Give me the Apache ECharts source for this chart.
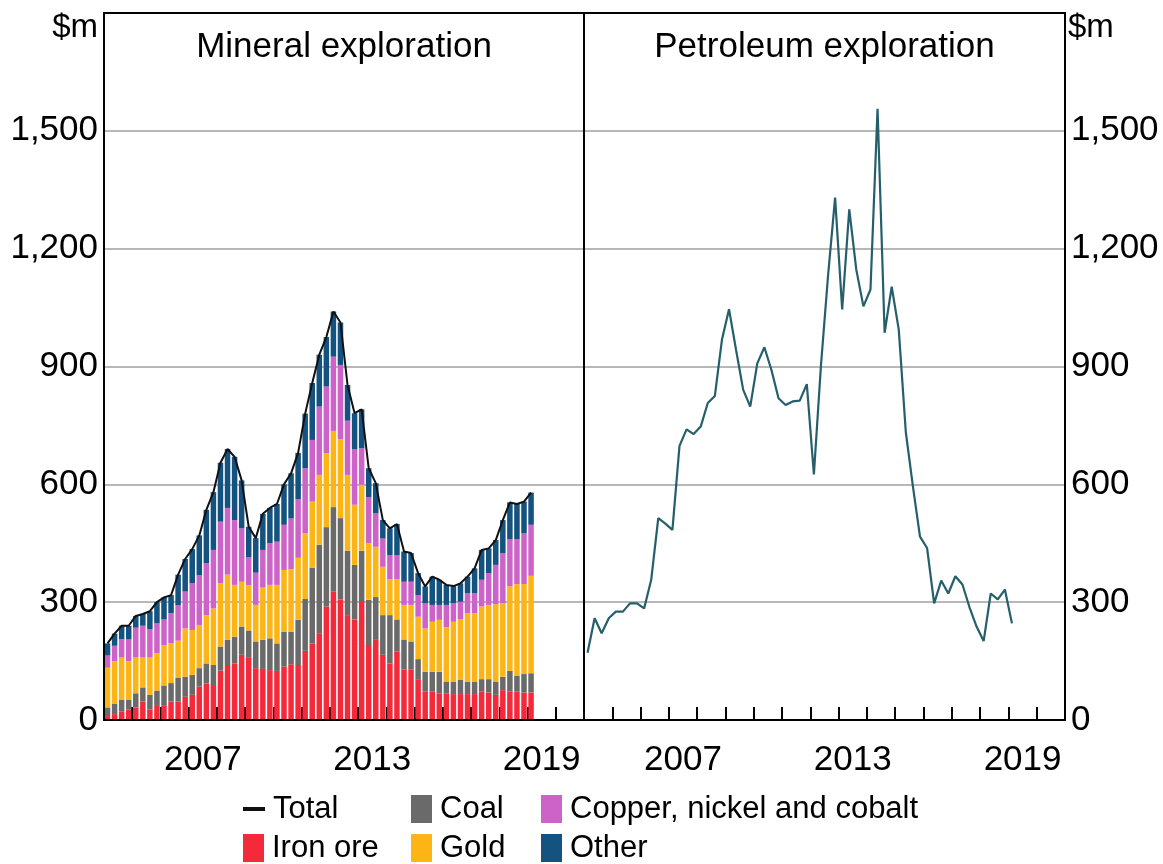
<!DOCTYPE html>
<html><head><meta charset="utf-8">
<script src="https://cdn.jsdelivr.net/npm/echarts@6/dist/echarts.min.js"></script>
<style>html,body{margin:0;padding:0;background:#fff}#c{width:1163px;height:864px}</style>
</head><body><div id="c"></div>
<script>
// ---- data (quarterly, 2004 Q1 .. 2019 Q1), $m ----
const years = ['2004','2005','2006','2007','2008','2009','2010','2011','2012','2013','2014','2015','2016','2017','2018','2019','2020'];
const shownYears = ['2007','2013','2019'];
const yTicks = [0,300,600,900,1200,1500,1800];

const ironOre = [10,15,21,27,32,47,27,38,36,47, 47,59,64,85,93,89,126,140,144,166, 160,132,130,127,125,136,142,140,176,195, 221,289,327,307,267,256,303,191,204,166, 144,174,129,129,104,72,72,68,68,66, 66,66,66,72,70,64,76,72,72,70, 70];
const coal = [22,27,30,24,36,36,37,37,52,47, 60,51,51,47,51,51,61,64,68,72, 68,68,74,81,70,89,83,115,132,193, 225,202,215,207,164,139,128,115,109,101, 123,82,76,71,51,51,51,55,30,32, 36,32,32,32,34,34,34,53,40,47, 49];
const gold = [101,108,108,99,91,76,95,95,103,102, 95,123,114,110,123,144,161,166,132,114, 115,93,133,136,149,157,159,158,167,168, 178,188,194,201,193,153,168,144,128,123, 91,102,88,93,108,110,127,132,138,152, 154,174,174,185,189,197,187,215,234,229, 248];
const copper = [31,39,47,55,76,81,72,76,65,76, 90,94,119,127,132,149,157,170,165,136, 72,82,96,106,110,115,129,149,166,157, 174,170,189,189,138,141,93,117,85,72, 62,62,59,59,55,64,43,38,57,47, 45,51,51,68,81,100,128,120,114,129, 130];
const other = [31,31,34,35,30,30,46,54,56,46, 78,83,87,101,136,147,150,150,161,122, 77,88,92,90,96,103,115,118,139,145, 132,126,115,108,91,92,99,74,77,47, 68,79,77,73,56,43,72,64,51,44, 47,42,63,76,63,63,84,94,90,81, 82];
const total = [195,220,240,240,265,270,277,300,312,318, 370,410,435,470,535,580,655,690,670,610, 492,463,525,540,550,600,628,680,780,858, 930,975,1040,1012,853,781,791,641,603,509, 488,499,429,425,374,340,365,357,344,341, 348,365,386,433,437,458,509,554,550,556, 579];
const petroleum = [171,259,221,259,276,276,297,297,284,357, 514,500,484,698,740,728,747,807,825,968, 1046,942,841,798,908,949,891,819,802,811, 813,855,625,903,1131,1330,1045,1300,1146,1053, 1096,1556,986,1103,994,732,595,467,438,297, 355,322,366,345,287,238,201,322,307,332, 246];

const quarters = [];
years.forEach(y => ['Q1','Q2','Q3','Q4'].forEach(q => quarters.push(y + q)));

// ---- styles ----
const FONT = 'Liberation Sans, Arial, sans-serif';
const C = {iron:'#F42A3B', coal:'#6A6A6A', gold:'#FDB515', copper:'#CD63C9', other:'#14527F', total:'#111111', petro:'#255F6C'};
const G0 = {left:104, top:13, width:480, height:707};
const G1 = {left:584, top:13, width:481, height:707};

const chart = echarts.init(document.getElementById('c'), null, {renderer:'canvas'});

function yAxisDef(gi, pos){
  return {
    type:'value', gridIndex:gi, position:pos, min:0, max:1800, interval:300,
    axisLine:{show:false}, axisTick:{show:false},
    splitLine:{show:true, lineStyle:{color:'#B8B8B8', width:2}},
    axisLabel:{show:true, margin:6, color:'#000', fontSize:35, fontFamily:FONT,
      formatter: v => v === 1800 ? '' : v.toLocaleString('en-US')}
  };
}
function xTickAxis(gi){
  return {
    type:'category', gridIndex:gi, data:quarters, position:'bottom', boundaryGap:true,
    axisLine:{show:true, lineStyle:{color:'#000', width:2}},
    axisTick:{show:true, inside:true, length:13, lineStyle:{color:'#000', width:2},
      interval:(i)=> i % 4 === 0},
    axisLabel:{show:false}, splitLine:{show:false}
  };
}
function xLabelAxis(gi){
  return {
    type:'category', gridIndex:gi, data:years, position:'bottom', boundaryGap:true,
    axisLine:{show:false}, axisTick:{show:false}, splitLine:{show:false},
    axisLabel:{show:true, margin:23, color:'#000', fontSize:35, fontFamily:FONT,
      interval:(i, v)=> shownYears.indexOf(v) >= 0}
  };
}

function barSeries(name, data, color){
  return {name, type:'bar', stack:'minerals', xAxisIndex:0, yAxisIndex:0, data,
    barCategoryGap:'22%', itemStyle:{color}, emphasis:{disabled:true}};
}

function legendItem(name, left, top, icon, w, h){
  return {data:[{name, icon}], left, top, orient:'horizontal', padding:0,
    itemWidth:w, itemHeight:h, selectedMode:false, itemGap:0,
    textStyle:{fontSize:31, fontFamily:FONT, color:'#000', padding:[0,0,0,3], lineHeight:34}};
}

const option = {
  backgroundColor:'#fff',
  animation:false,
  grid:[Object.assign({containLabel:false}, G0), Object.assign({containLabel:false}, G1)],
  xAxis:[xTickAxis(0), xLabelAxis(0), xTickAxis(1), xLabelAxis(1)],
  yAxis:[yAxisDef(0,'left'), yAxisDef(1,'right')],
  legend:[
    legendItem('Total', 243, 792, 'rect', 22, 4),
    legendItem('Coal', 411, 792, 'rect', 21, 28),
    legendItem('Copper, nickel and cobalt', 541, 792, 'rect', 21, 28),
    legendItem('Iron ore', 243, 831, 'rect', 21, 28),
    legendItem('Gold', 411, 831, 'rect', 21, 28),
    legendItem('Other', 541, 831, 'rect', 21, 28)
  ],
  series:[
    barSeries('Iron ore', ironOre, C.iron),
    barSeries('Coal', coal, C.coal),
    barSeries('Gold', gold, C.gold),
    barSeries('Copper, nickel and cobalt', copper, C.copper),
    barSeries('Other', other, C.other),
    {name:'Total', type:'line', xAxisIndex:0, yAxisIndex:0, data:total, symbol:'none',
      lineStyle:{color:C.total, width:2}, itemStyle:{color:C.total}, z:5, emphasis:{disabled:true}},
    {name:'Petroleum exploration', type:'line', xAxisIndex:2, yAxisIndex:1, data:petroleum, symbol:'none',
      lineStyle:{color:C.petro, width:2.2}, itemStyle:{color:C.petro}, z:5, emphasis:{disabled:true}}
  ],
  graphic:[
    {type:'rect', z:100, shape:{x:G0.left, y:G0.top, width:G0.width, height:G0.height},
      style:{fill:null, stroke:'#000', lineWidth:2}},
    {type:'rect', z:100, shape:{x:G1.left, y:G1.top, width:G1.width, height:G1.height},
      style:{fill:null, stroke:'#000', lineWidth:2}},
    {type:'text', z:100, x:G0.left + G0.width/2, y:47,
      style:{text:'Mineral exploration', fontSize:35, fontFamily:FONT, fill:'#000', align:'center', verticalAlign:'middle'}},
    {type:'text', z:100, x:G1.left + G1.width/2, y:47,
      style:{text:'Petroleum exploration', fontSize:35, fontFamily:FONT, fill:'#000', align:'center', verticalAlign:'middle'}},
    {type:'text', z:100, x:98, y:28,
      style:{text:'$m', fontSize:33, fontFamily:FONT, fill:'#000', align:'right', verticalAlign:'middle'}},
    {type:'text', z:100, x:1068, y:28,
      style:{text:'$m', fontSize:33, fontFamily:FONT, fill:'#000', align:'left', verticalAlign:'middle'}}
  ]
};
chart.setOption(option);
</script></body></html>
